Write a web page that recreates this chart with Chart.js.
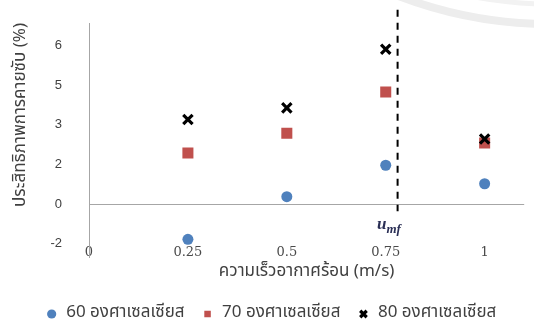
<!DOCTYPE html>
<html><head><meta charset="utf-8">
<script src="https://cdn.jsdelivr.net/npm/chart.js@4/dist/chart.umd.min.js"></script>
<style>html,body{margin:0;padding:0;background:#fff}</style>
</head><body>
<canvas id="c" width="534" height="322"></canvas>
<script>
// Desorption efficiency vs. hot-air velocity at three temperatures
const speeds = [0.25, 0.5, 0.75, 1];
const seriesNames = ['60 องศาเซลเซียส', '70 องศาเซลเซียส', '80 องศาเซลเซียส'];
const eff60 = [-1.33, 0.28, 1.47, 0.77];
const eff70 = [1.93, 2.68, 4.24, 2.31];
const eff80 = [3.20, 3.64, 5.86, 2.46];
const xTickValues = [0, 0.25, 0.5, 0.75, 1];
const xTickLabels = ['0', '0.25', '0.5', '0.75', '1'];
const yTickValues = [-1.5, 0, 1.5, 3, 4.5, 6];
const yTickLabels = ['-2', '0', '2', '3', '5', '6'];
const umfSpeed = 0.78;            // minimum fluidisation velocity
const umfLineSpan = [7.35, -0.27]; // vertical extent of the u_mf marker line

const THAI = "'Noto Sans Thai','Noto Sans Thai UI','Loma','Garuda','Tlwg Typo','Noto Sans',sans-serif";
const pts = (ys) => speeds.map((x, i) => ({x, y: ys[i]}));

// faint ring in the background
const ringPlugin = {
  id: 'ring',
  beforeDraw(chart) {
    const ctx = chart.ctx;
    ctx.save();
    ctx.strokeStyle = '#ededed';
    ctx.lineWidth = 8;
    ctx.beginPath(); ctx.arc(550, -400, 424, 0, Math.PI); ctx.stroke();
    ctx.lineWidth = 5;
    ctx.strokeStyle = '#f2f2f2';
    ctx.beginPath(); ctx.arc(550, -400, 404, 0, Math.PI); ctx.stroke();
    ctx.restore();
  }
};

// "u_mf" annotation beside the dashed line
const umfLabel = {
  id: 'umfLabel',
  afterDatasetsDraw(chart) {
    const {ctx, scales} = chart;
    const x = scales.x.getPixelForValue(0.728);
    const y = scales.y.getPixelForValue(-0.93);
    ctx.save();
    ctx.fillStyle = '#2a2f55';
    ctx.textBaseline = 'alphabetic';
    ctx.font = "italic bold 17px 'Liberation Serif', serif";
    ctx.fillText('u', x, y);
    const w = ctx.measureText('u').width;
    ctx.font = "italic bold 13px 'Liberation Serif', serif";
    ctx.fillText('mf', x + w, y + 4);
    ctx.restore();
  }
};

new Chart(document.getElementById('c'), {
  type: 'scatter',
  data: {
    datasets: [
      { label: seriesNames[0], data: pts(eff60), backgroundColor: '#4f81bd', borderColor: '#4f81bd',
        pointStyle: 'circle', pointRadius: 5.5, pointBorderWidth: 0, order: 2 },
      { label: seriesNames[1], data: pts(eff70), backgroundColor: '#c0504d', borderColor: '#c0504d',
        pointStyle: 'rect', pointRadius: 7.8, pointBorderWidth: 0, order: 1 },
      { label: seriesNames[2], data: pts(eff80), backgroundColor: '#000', borderColor: '#000',
        pointStyle: 'crossRot', pointRadius: 6.6, pointBorderWidth: 3.2, order: 0 },
      { label: 'umf', data: umfLineSpan.map(y => ({x: umfSpeed, y})), showLine: true,
        borderColor: '#000', borderWidth: 2, borderDash: [7, 6], pointRadius: 0, clip: false, order: 3 }
    ]
  },
  options: {
    responsive: false,
    animation: false,
    layout: { padding: { left: 12, right: 4, top: 23, bottom: 0 } },
    plugins: {
      tooltip: { enabled: false },
      legend: {
        position: 'bottom',
        maxHeight: 33.5,
        labels: {
          filter: (item) => item.datasetIndex < 3,
          sort: (a, b) => a.datasetIndex - b.datasetIndex,
          usePointStyle: true,
          boxWidth: 12, boxHeight: 6.5,
          padding: 17,
          color: '#404040',
          font: { family: THAI, size: 17 }
        }
      }
    },
    scales: {
      x: {
        type: 'linear', min: 0, max: 1.1,
        afterFit: (s) => { s.height = 31.5; },
        afterBuildTicks: (s) => { s.ticks = xTickValues.map(v => ({value: v})); },
        grid: { display: false, drawTicks: false },
        border: { display: false },
        ticks: {
          mirror: true, padding: -3.4, color: '#4a4a4a', maxRotation: 0,
          font: { family: "'DejaVu Serif', serif", size: 13 },
          callback: (v) => xTickLabels[xTickValues.indexOf(v)] ?? ''
        },
        title: {
          display: true, text: 'ความเร็วอากาศร้อน (m/s)', color: '#404040',
          font: { family: THAI, size: 17 }, padding: { top: 0, bottom: 6 }
        }
      },
      y: {
        min: -2, max: 6.85,
        afterFit: (s) => { s.width = 77; s.paddingTop = 0; s.paddingBottom = 0; },
        afterBuildTicks: (s) => { s.ticks = yTickValues.map(v => ({value: v})); },
        grid: {
          drawTicks: false,
          color: (c) => (c.tick && c.tick.value === 0) ? '#a6a6a6' : 'rgba(0,0,0,0)'
        },
        border: { display: true, color: '#a6a6a6', width: 1 },
        ticks: {
          padding: 27, color: '#404040',
          font: { family: "'Liberation Sans', sans-serif", size: 13 },
          callback: (v) => yTickLabels[yTickValues.indexOf(v)] ?? ''
        },
        title: {
          display: true, align: 'end', text: 'ประสิทธิภาพการคายซับ (%)', color: '#404040',
          font: { family: THAI, size: 17 }, padding: { top: -1, bottom: 0 }
        }
      }
    }
  },
  plugins: [ringPlugin, umfLabel]
});
</script>
</body></html>
